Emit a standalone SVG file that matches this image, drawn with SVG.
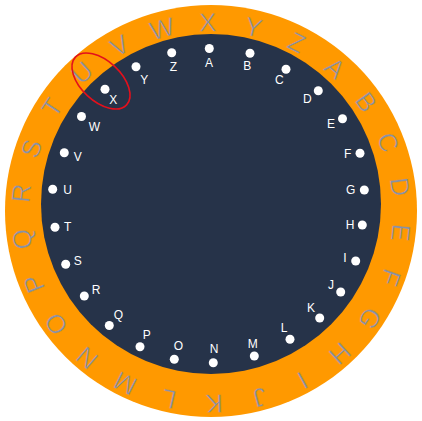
<svg xmlns="http://www.w3.org/2000/svg" width="422" height="421" viewBox="0 0 422 421">
<style>
.ring{fill:#8692a8;stroke:#ff9900;stroke-width:0.5;font-family:"Liberation Sans",Arial,sans-serif;font-size:26px;text-anchor:middle}
.dot{fill:#ffffff}
.lbl{fill:#ffffff;font-family:"Liberation Sans",Arial,sans-serif;font-size:12px;text-anchor:middle}
</style>
<rect width="422" height="421" fill="#ffffff"/>
<circle cx="211" cy="211" r="206" fill="#ff9900"/>
<circle cx="211" cy="204" r="170" fill="#263349"/>
<g id="ring-letters">
<text class="ring" x="211" y="31.3" transform="rotate(-1 211 213)">X</text>
<text class="ring" x="211" y="31.3" transform="rotate(12.846 211 213)">Y</text>
<text class="ring" x="211" y="31.3" transform="rotate(26.692 211 213)">Z</text>
<text class="ring" x="211" y="31.3" transform="rotate(40.538 211 213)">A</text>
<text class="ring" x="211" y="31.3" transform="rotate(54.385 211 213)">B</text>
<text class="ring" x="211" y="31.3" transform="rotate(68.231 211 213)">C</text>
<text class="ring" x="211" y="31.3" transform="rotate(82.077 211 213)">D</text>
<text class="ring" x="211" y="31.3" transform="rotate(95.923 211 213)">E</text>
<text class="ring" x="211" y="31.3" transform="rotate(109.769 211 213)">F</text>
<text class="ring" x="211" y="31.3" transform="rotate(123.615 211 213)">G</text>
<text class="ring" x="211" y="31.3" transform="rotate(137.462 211 213)">H</text>
<text class="ring" x="211" y="31.3" transform="rotate(151.308 211 213)">I</text>
<text class="ring" x="211" y="31.3" transform="rotate(165.154 211 213)">J</text>
<text class="ring" x="211" y="31.3" transform="rotate(179 211 213)">K</text>
<text class="ring" x="211" y="31.3" transform="rotate(192.846 211 213)">L</text>
<text class="ring" x="211" y="31.3" transform="rotate(206.692 211 213)">M</text>
<text class="ring" x="211" y="31.3" transform="rotate(220.538 211 213)">N</text>
<text class="ring" x="211" y="31.3" transform="rotate(234.385 211 213)">O</text>
<text class="ring" x="211" y="31.3" transform="rotate(248.231 211 213)">P</text>
<text class="ring" x="211" y="31.3" transform="rotate(262.077 211 213)">Q</text>
<text class="ring" x="211" y="31.3" transform="rotate(275.923 211 213)">R</text>
<text class="ring" x="211" y="31.3" transform="rotate(289.769 211 213)">S</text>
<text class="ring" x="211" y="31.3" transform="rotate(303.615 211 213)">T</text>
<text class="ring" x="211" y="31.3" transform="rotate(317.462 211 213)">U</text>
<text class="ring" x="211" y="31.3" transform="rotate(331.308 211 213)">V</text>
<text class="ring" x="211" y="31.3" transform="rotate(345.154 211 213)">W</text>
</g>
<g id="node-A"><circle class="dot" cx="209.3" cy="48.5" r="4.5"/><text class="lbl" x="209" y="66.6">A</text></g>
<g id="node-B"><circle class="dot" cx="250" cy="53.3" r="4.5"/><text class="lbl" x="247.3" y="70">B</text></g>
<g id="node-C"><circle class="dot" cx="286" cy="69.3" r="4.5"/><text class="lbl" x="279.3" y="84.3">C</text></g>
<g id="node-D"><circle class="dot" cx="318.3" cy="90.7" r="4.5"/><text class="lbl" x="307.3" y="103.3">D</text></g>
<g id="node-E"><circle class="dot" cx="342.5" cy="118.8" r="4.5"/><text class="lbl" x="331" y="127.6">E</text></g>
<g id="node-F"><circle class="dot" cx="360" cy="153.3" r="4.5"/><text class="lbl" x="347.7" y="158.3">F</text></g>
<g id="node-G"><circle class="dot" cx="364.3" cy="190" r="4.5"/><text class="lbl" x="350.7" y="194.3">G</text></g>
<g id="node-H"><circle class="dot" cx="362.3" cy="225" r="4.5"/><text class="lbl" x="350" y="229.3">H</text></g>
<g id="node-I"><circle class="dot" cx="355.7" cy="261" r="4.5"/><text class="lbl" x="345" y="261.6">I</text></g>
<g id="node-J"><circle class="dot" cx="340.7" cy="292" r="4.5"/><text class="lbl" x="331" y="288.6">J</text></g>
<g id="node-K"><circle class="dot" cx="319.7" cy="318" r="4.5"/><text class="lbl" x="311" y="311.8">K</text></g>
<g id="node-L"><circle class="dot" cx="290" cy="339.3" r="4.5"/><text class="lbl" x="284" y="332">L</text></g>
<g id="node-M"><circle class="dot" cx="254.3" cy="356" r="4.5"/><text class="lbl" x="252.7" y="347.6">M</text></g>
<g id="node-N"><circle class="dot" cx="213.3" cy="362.7" r="4.5"/><text class="lbl" x="214" y="352.6">N</text></g>
<g id="node-O"><circle class="dot" cx="174.3" cy="359.3" r="4.5"/><text class="lbl" x="178.3" y="350.3">O</text></g>
<g id="node-P"><circle class="dot" cx="140" cy="346.7" r="4.5"/><text class="lbl" x="146.7" y="338.6">P</text></g>
<g id="node-Q"><circle class="dot" cx="109.3" cy="325.5" r="4.5"/><text class="lbl" x="118.3" y="319.3">Q</text></g>
<g id="node-R"><circle class="dot" cx="84.3" cy="296" r="4.5"/><text class="lbl" x="96" y="294.3">R</text></g>
<g id="node-S"><circle class="dot" cx="65.7" cy="264.3" r="4.5"/><text class="lbl" x="77.7" y="265.3">S</text></g>
<g id="node-T"><circle class="dot" cx="55" cy="227.3" r="4.5"/><text class="lbl" x="67.7" y="231">T</text></g>
<g id="node-U"><circle class="dot" cx="52.7" cy="189.3" r="4.5"/><text class="lbl" x="67.7" y="194.3">U</text></g>
<g id="node-V"><circle class="dot" cx="64.3" cy="152.7" r="4.5"/><text class="lbl" x="77.7" y="161">V</text></g>
<g id="node-W"><circle class="dot" cx="81.5" cy="116.5" r="4.5"/><text class="lbl" x="94.3" y="131">W</text></g>
<g id="node-X"><circle class="dot" cx="105" cy="89.3" r="4.5"/><text class="lbl" x="113.3" y="104.3">X</text></g>
<g id="node-Y"><circle class="dot" cx="136" cy="66.7" r="4.5"/><text class="lbl" x="144.3" y="84.3">Y</text></g>
<g id="node-Z"><circle class="dot" cx="171.7" cy="52.7" r="4.5"/><text class="lbl" x="173.3" y="71">Z</text></g>
<g id="highlight"><ellipse cx="101" cy="81" rx="35" ry="20" transform="rotate(43 101 81)" fill="none" stroke="#e3101c" stroke-width="1.6"/></g>
</svg>
